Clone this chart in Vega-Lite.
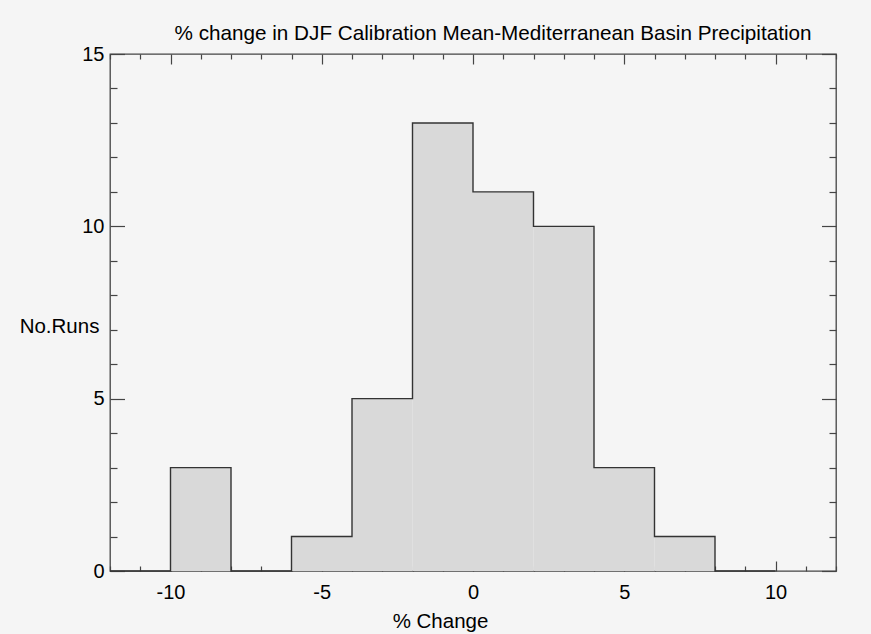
{
  "$schema": "https://vega.github.io/schema/vega-lite/v6.json",
  "width": 726,
  "height": 517,
  "autosize": {"type": "none"},
  "padding": {"left": 110, "top": 54, "right": 35, "bottom": 63},
  "background": "#f5f5f5",
  "title": {
    "text": "% change in DJF Calibration Mean-Mediterranean Basin Precipitation",
    "font": "Liberation Sans",
    "fontSize": 20.7,
    "fontWeight": "normal",
    "color": "#000000",
    "anchor": "middle",
    "dx": 20,
    "offset": -1
  },
  "config": {
    "view": {"stroke": "#444444", "strokeWidth": 1.3},
    "axis": {
      "domain": false,
      "grid": false,
      "labelFont": "Liberation Sans",
      "labelFontSize": 20,
      "labelColor": "#000000",
      "titleFont": "Liberation Sans",
      "titleFontSize": 20.5,
      "titleFontWeight": "normal",
      "titleColor": "#000000",
      "tickColor": "#444444",
      "tickWidth": 1.2,
      "labelFlush": false,
      "labelOverlap": false
    }
  },
  "data": {
    "values": [
      {"bin_start": -12, "bin_end": -10, "count": 0},
      {"bin_start": -10, "bin_end": -8, "count": 3},
      {"bin_start": -8, "bin_end": -6, "count": 0},
      {"bin_start": -6, "bin_end": -4, "count": 1},
      {"bin_start": -4, "bin_end": -2, "count": 5},
      {"bin_start": -2, "bin_end": 0, "count": 13},
      {"bin_start": 0, "bin_end": 2, "count": 11},
      {"bin_start": 2, "bin_end": 4, "count": 10},
      {"bin_start": 4, "bin_end": 6, "count": 3},
      {"bin_start": 6, "bin_end": 8, "count": 1},
      {"bin_start": 8, "bin_end": 10, "count": 0},
      {"bin_start": 10, "bin_end": 12, "count": 0}
    ]
  },
  "layer": [
    {
      "mark": {"type": "bar", "fill": "#d9d9d9", "stroke": null, "orient": "vertical"},
      "encoding": {
        "x": {
          "field": "bin_start",
          "type": "quantitative",
          "scale": {"domain": [-12, 12], "nice": false, "zero": false, "padding": 0},
          "axis": {
            "orient": "bottom",
            "title": "% Change",
            "values": [-12,-11,-10,-9,-8,-7,-6,-5,-4,-3,-2,-1,0,1,2,3,4,5,6,7,8,9,10,11,12],
            "labelExpr": "datum.value % 5 === 0 && abs(datum.value) < 12 ? '' + datum.value : ''",
            "tickSize": {"condition": {"test": "datum.value % 5 === 0", "value": -10}, "value": -5},
            "labelPadding": 21,
            "titleX": 330,
            "titleY": 50,
            "titleBaseline": "middle",
            "titleAnchor": null
          }
        },
        "x2": {"field": "bin_end"},
        "y": {
          "field": "count",
          "type": "quantitative",
          "scale": {"domain": [0, 15], "nice": false, "padding": 0},
          "axis": {
            "orient": "left",
            "title": "No.Runs",
            "titleAngle": 0,
            "titleAlign": "center",
            "titleBaseline": "middle",
            "titleX": -51,
            "titleY": 272,
            "values": [0,1,2,3,4,5,6,7,8,9,10,11,12,13,14,15],
            "labelExpr": "datum.value % 5 === 0 ? '' + datum.value : ''",
            "tickSize": {"condition": {"test": "datum.value % 5 === 0", "value": -14.5}, "value": -7},
            "labelPadding": 20.5
          }
        },
        "y2": {"datum": 0}
      }
    },
    {
      "mark": {"type": "line", "interpolate": "step-after", "color": "#333333", "strokeWidth": 1.4},
      "encoding": {
        "x": {
          "field": "bin_start",
          "type": "quantitative",
          "axis": {
            "orient": "top",
            "title": null,
            "labels": false,
            "values": [-12,-11,-10,-9,-8,-7,-6,-5,-4,-3,-2,-1,0,1,2,3,4,5,6,7,8,9,10,11,12],
            "tickSize": {"condition": {"test": "datum.value % 5 === 0", "value": -10}, "value": -5}
          }
        },
        "y": {
          "field": "count",
          "type": "quantitative",
          "axis": {
            "orient": "right",
            "title": null,
            "labels": false,
            "values": [0,1,2,3,4,5,6,7,8,9,10,11,12,13,14,15],
            "tickSize": {"condition": {"test": "datum.value % 5 === 0", "value": -14.5}, "value": -7}
          }
        }
      }
    }
  ],
  "resolve": {"axis": {"x": "independent", "y": "independent"}}
}
